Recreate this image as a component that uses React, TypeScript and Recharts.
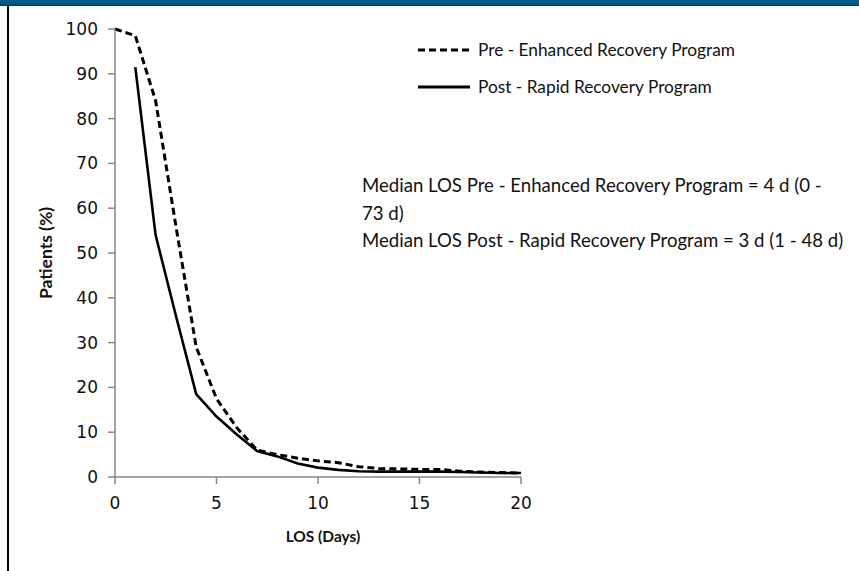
import { LineChart, Line, XAxis, YAxis, Legend } from 'recharts'

const days = [0, 1, 2, 3, 4, 5, 6, 7, 8, 9, 10, 11, 12, 13, 14, 15, 16, 17, 18, 19, 20]
const preEnhanced = [100, 98.5, 84, 56, 29, 17.5, 11, 6, 5, 4.2, 3.6, 3.2, 2.3, 1.9, 1.8, 1.7, 1.7, 1.3, 1.1, 1.0, 0.9]
const postRapid = [null, 91.5, 54, 36, 18.5, 13.5, 9.5, 5.8, 4.6, 3.0, 2.1, 1.6, 1.3, 1.2, 1.2, 1.2, 1.2, 1.1, 1.0, 0.9, 0.9]
const xTicks = [0, 5, 10, 15, 20]
const yTicks = [0, 10, 20, 30, 40, 50, 60, 70, 80, 90, 100]
const medianNotes = [
  'Median LOS Pre - Enhanced Recovery Program = 4 d (0 -',
  '73 d)',
  'Median LOS Post - Rapid Recovery Program = 3 d (1 - 48 d)',
]

const data = days.map((d, i) => ({ day: d, pre: preEnhanced[i], post: postRapid[i] }))

const axisGrey = '#868686'
const tickStyle = { fontSize: 17, fill: '#111', fontFamily: 'DejaVu Sans' }
const calibri = 'Lato, "Open Sans", sans-serif'

function LegendBox() {
  const rows = [
    { name: 'Pre - Enhanced Recovery Program', dash: '7 4' },
    { name: 'Post - Rapid Recovery Program', dash: undefined },
  ]
  return (
    <div>
      {rows.map((r) => (
        <div key={r.name} style={{ display: 'flex', alignItems: 'center', height: 37 }}>
          <svg width={54} height={6} style={{ marginRight: 6 }}>
            <line x1={0} y1={3} x2={52} y2={3} stroke="#000" strokeWidth={3} strokeDasharray={r.dash} />
          </svg>
          <span style={{ fontFamily: calibri, fontSize: 17.3, color: '#111', whiteSpace: 'nowrap' }}>{r.name}</span>
        </div>
      ))}
    </div>
  )
}

export default function App() {
  return (
    <div style={{ position: 'absolute', left: 0, top: 0, width: 859, height: 571, background: '#fff', overflow: 'hidden' }}>
      <div style={{ position: 'absolute', left: 0, top: 0, width: 859, height: 5, background: '#005a85' }} />
      <div style={{ position: 'absolute', left: 0, top: 5, width: 859, height: 1, background: '#1d2b35' }} />
      <div style={{ position: 'absolute', left: 7, top: 6, width: 2, height: 565, background: '#000' }} />

      <LineChart width={859} height={571} data={data} margin={{ top: 29, right: 338, bottom: 0, left: 0 }}>
        <XAxis
          dataKey="day"
          type="number"
          domain={[0, 20]}
          ticks={xTicks}
          height={94}
          stroke={axisGrey}
          strokeWidth={1.5}
          tickSize={7}
          tickMargin={13}
          tick={tickStyle}
        />
        <YAxis
          type="number"
          domain={[0, 100]}
          ticks={yTicks}
          width={115}
          stroke={axisGrey}
          strokeWidth={1.5}
          tickSize={7}
          tickMargin={10}
          tick={tickStyle}
        />
        <Legend
          layout="horizontal"
          verticalAlign="middle"
          align="center"
          content={() => <LegendBox />}
          wrapperStyle={{ position: 'absolute', top: 31, left: 418, width: 420 }}
        />
        <Line
          type="linear"
          dataKey="pre"
          stroke="#000"
          strokeWidth={3}
          strokeDasharray="7 4"
          dot={false}
          isAnimationActive={false}
        />
        <Line
          type="linear"
          dataKey="post"
          stroke="#000"
          strokeWidth={2.6}
          dot={false}
          connectNulls={false}
          isAnimationActive={false}
        />
      </LineChart>

      <div
        style={{
          position: 'absolute',
          left: 45,
          top: 253,
          transform: 'translate(-50%, -50%) rotate(-90deg)',
          fontFamily: calibri,
          fontWeight: 700,
          fontSize: 17.5,
          color: '#111',
          whiteSpace: 'nowrap',
        }}
      >
        Patients (%)
      </div>
      <div
        style={{
          position: 'absolute',
          left: 323,
          top: 536,
          transform: 'translate(-50%, -50%)',
          fontFamily: calibri,
          fontWeight: 700,
          fontSize: 15.5,
          color: '#111',
          whiteSpace: 'nowrap',
        }}
      >
        LOS (Days)
      </div>
      <div style={{ position: 'absolute', left: 362, top: 172, fontFamily: calibri, fontSize: 18.6, color: '#111', lineHeight: '27.5px' }}>
        {medianNotes.map((t) => (
          <div key={t} style={{ whiteSpace: 'nowrap' }}>{t}</div>
        ))}
      </div>
    </div>
  )
}
